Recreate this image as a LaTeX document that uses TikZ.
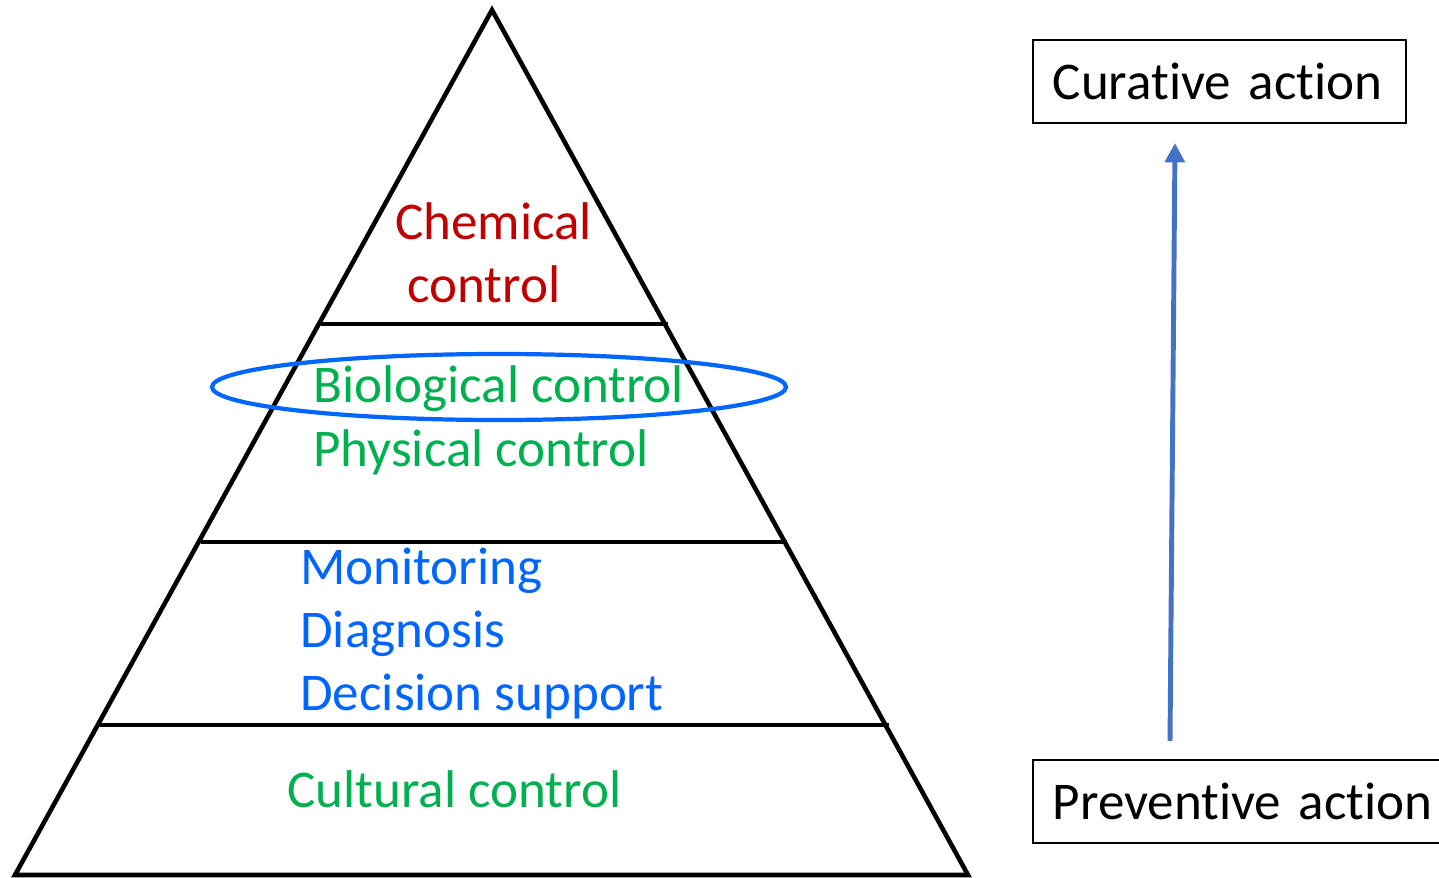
\documentclass[tikz,border=0pt]{standalone}
\usepackage{fontspec}
\setmainfont[Ligatures={NoCommon}]{Carlito}
\usetikzlibrary{arrows.meta}
\definecolor{cred}{HTML}{C00000}
\definecolor{cgreen}{HTML}{00B050}
\definecolor{cblue}{HTML}{0066FF}
\definecolor{carrow}{HTML}{4472C4}
\tikzset{
  lbl/.style={anchor=base west, inner sep=0pt, font=\fontsize{30.2}{35}\selectfont},
  box/.style={draw, line width=1.1pt, anchor=west, inner xsep=11.3pt, inner ysep=0pt,
    minimum height=47.1pt, align=left, font=\fontsize{30.2}{35}\selectfont},
  tri/.style={line width=2.6pt, line join=miter},
  band/.style={line width=2pt},
}
\begin{document}
\begin{tikzpicture}[x=0.02cm,y=-0.02cm]
\useasboundingbox (0,0) rectangle (1439,878);
% pyramid
\coordinate (apex) at (492,10);
\coordinate (bl) at (15,875);
\coordinate (br) at (968,875);
\draw[tri] (apex) -- (bl) -- (br) -- cycle;
\coordinate (l1a) at (321,324); \coordinate (l1b) at (668,324);
\coordinate (l2a) at (201,542); \coordinate (l2b) at (787,542);
\coordinate (l3a) at (100,725); \coordinate (l3b) at (889,725);
\draw[band] (l1a) -- (l1b);
\draw[band] (l2a) -- (l2b);
\draw[band] (l3a) -- (l3b);
% texts
\node[lbl, text=cred] (chem) at (395,240) {Chemical};
\node[lbl, text=cred] (ctrl) at (407,302) {control};
\node[lbl, text=cgreen] (bio) at (313,402) {Biological control};
\node[lbl, text=cgreen] (phys) at (313,466) {Physical control};
\node[lbl, text=cblue] (mon) at (300,584) {Monitoring};
\node[lbl, text=cblue] (diag) at (300,647) {Diagnosis};
\node[lbl, text=cblue] (dec) at (300,710) {Decision support};
\node[lbl, text=cgreen] (cult) at (287,807) {Cultural control};
% ellipse
\draw[cblue, line width=2.4pt] (499,387) ellipse [x radius=287, y radius=33];
% boxes
\node[box, text width=189.9pt] (cur) at (1032,81.5) {Curative action};
\node[box, text width=211.5pt] (prev) at (1032,801.5) {\mbox{Preventive action}};
% arrow
\coordinate (as) at (1170,741);
\coordinate (ae) at (1175,143);
\draw[carrow, line width=2.8pt, -{Triangle[length=11pt,width=11pt]}] (as) -- (ae);
\end{tikzpicture}
\end{document}
